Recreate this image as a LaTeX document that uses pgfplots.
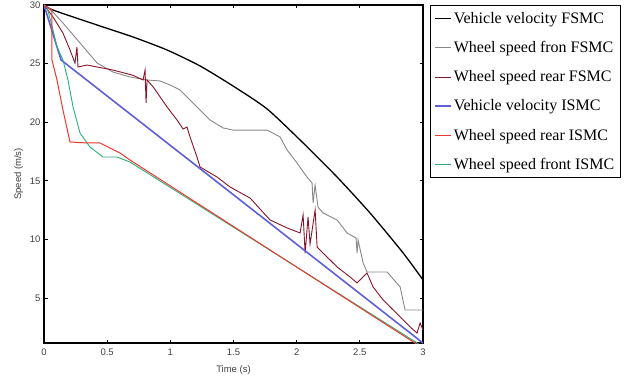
\documentclass[border=0pt]{standalone}
\usepackage{fontspec}
\setmainfont{Liberation Serif}
\newfontfamily\sansf{Liberation Sans}
\usepackage{pgfplots}
\pgfplotsset{compat=1.18}
\definecolor{cgray}{RGB}{135,135,135}
\definecolor{cmaroon}{RGB}{135,20,40}
\definecolor{cblue}{RGB}{95,95,220}
\definecolor{cred}{RGB}{240,55,45}
\definecolor{cgreen}{RGB}{40,175,120}
\begin{document}
\begin{tikzpicture}[x=1pt,y=1pt]
\useasboundingbox (-44,-35) rectangle (584,343);
\begin{axis}[
  scale only axis, width=379pt, height=338pt,
  xmin=0, xmax=3, ymin=1.16, ymax=30,
  xtick={0,0.5,1,1.5,2,2.5,3},
  xticklabels={0,0.5,1,1.5,2,2.5,3},
  ytick={5,10,15,20,25,30},
  yticklabels={5,10,15,20,25,30},
  tick align=inside, major tick length=3.5pt,
  axis line style={line width=1.2pt},
  tick style={black, line width=0.8pt},
  ticklabel style={font=\sansf\fontsize{9.5}{9.5}\selectfont, text=black!75},
  xticklabel style={yshift=-2pt},
  xlabel={Time (s)}, ylabel={Speed (m/s)},
  label style={font=\sansf\fontsize{9.5}{9.5}\selectfont, text=black!75},
  xlabel style={yshift=-3pt},
  ylabel style={yshift=0pt},
  legend style={at={(1.018,1)}, anchor=north west, line width=0.8pt,
    font=\fontsize{16}{16}\selectfont, row sep=12.5pt, inner xsep=4pt, inner ysep=5pt,
    cells={anchor=west}},
  legend image code/.code={\draw[line width=1pt,#1] (0pt,0pt) -- (9pt,0pt);
    \path (0pt,0pt) -- (16pt,0pt);},
  clip=true,
]
\addplot[black, line width=1.3pt, smooth, tension=0.4] coordinates {
(0,30) (0.071,29.57) (0.443,28.21) (0.705,27.27) (0.974,26.16) (1.235,24.80)
(1.496,23.09) (1.766,21.13) (2.051,18.23) (2.320,15.32) (2.581,12.25) (2.843,8.84) (3.0,6.54)};
\addlegendentry{Vehicle velocity FSMC}
\addplot[cgray, line width=0.9pt] coordinates {
(0,30) (0.071,29.40) (0.150,28.46) (0.285,26.76) (0.420,25.05) (0.546,24.28)
(0.681,23.86) (0.816,23.60) (0.918,23.52) (0.998,23.17) (1.077,22.75) (1.156,21.89)
(1.235,21.04) (1.314,20.19) (1.417,19.51) (1.496,19.33) (1.766,19.33) (1.869,18.74)
(1.924,17.63) (2.003,16.52) (2.082,15.32) (2.122,14.81) (2.130,13.11) (2.146,14.64)
(2.169,12.76) (2.209,12.25) (2.320,11.66) (2.399,10.55) (2.470,10.12) (2.478,8.84)
(2.486,9.95) (2.526,7.99) (2.557,7.22) (2.716,7.22) (2.819,5.94) (2.858,3.98) (3.0,3.98)};
\addlegendentry{Wheel speed fron FSMC}
\addplot[cmaroon, line width=0.9pt] coordinates {
(0,30) (0.071,28.98) (0.150,27.61) (0.206,26.16) (0.245,25.05) (0.261,26.42)
(0.269,24.71) (0.340,24.88) (0.420,24.71) (0.546,24.45) (0.705,24.00) (0.784,23.60)
(0.800,24.45) (0.808,21.64) (0.816,23.60) (0.865,23.00) (0.974,21.30)
(1.053,20.19) (1.101,19.42) (1.132,19.59) (1.156,18.74) (1.211,17.03) (1.235,16.18)
(1.370,15.32) (1.473,14.47) (1.631,13.53) (1.789,11.66) (1.924,10.98) (2.027,10.55)
(2.051,12.08) (2.067,8.84) (2.090,11.91) (2.106,9.61) (2.146,12.51) (2.162,9.35)
(2.209,8.84) (2.320,7.65) (2.423,6.79) (2.478,6.28) (2.557,7.13)
(2.605,5.94) (2.684,4.84) (2.740,4.23) (2.819,3.38) (2.898,2.53) (2.953,2.01)
(2.977,2.87) (3.0,2.27)};
\addlegendentry{Wheel speed rear FSMC}
\addplot[cblue, line width=1.6pt] coordinates {
(0,30) (0.135,25.31) (3.0,1.16)};
\addlegendentry{Vehicle velocity ISMC}
\addplot[cgreen, line width=0.9pt, forget plot] coordinates {
(0,30) (0.024,29.83) (0.071,27.87) (0.103,26.42) (0.150,25.31) (0.190,23.60)
(0.230,21.30) (0.285,19.08) (0.364,17.88) (0.467,17.03) (0.578,17.03) (0.681,16.60)
(3.0,0.85)};
\addplot[cred, line width=1.0pt] coordinates {
(0,30) (0.063,29.57) (0.063,25.31) (0.103,23.60) (0.150,21.04) (0.206,18.31)
(0.340,18.23) (0.443,18.23) (0.523,17.80) (0.602,17.37) (0.681,16.77) (3.0,0.72)};
\addlegendentry{Wheel speed rear ISMC}
\addlegendimage{cgreen, line width=1pt}
\addlegendentry{Wheel speed front ISMC}
\end{axis}
\end{tikzpicture}
\end{document}
